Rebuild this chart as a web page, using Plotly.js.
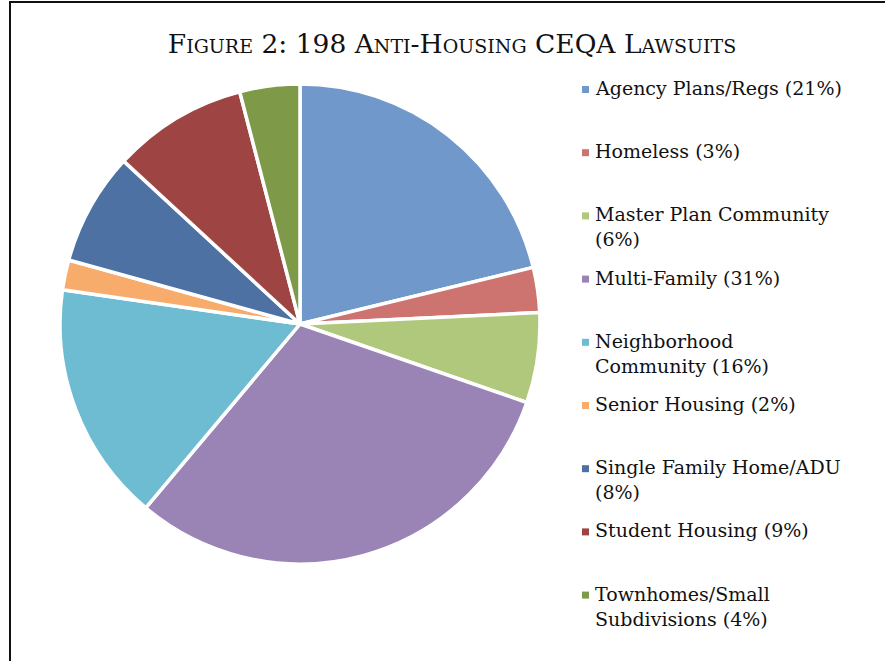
<!DOCTYPE html>
<html>
<head>
<meta charset="utf-8">
<script src="https://cdn.plot.ly/plotly-3.0.1.min.js"></script>
<style>
  html, body { margin: 0; padding: 0; background: #fff; overflow: hidden; }
  #frame { position: absolute; left: 9px; top: 1px; width: 1000px; height: 800px;
           border-left: 2px solid #111; border-top: 2px solid #111; }
  #chart { position: absolute; left: 0; top: 0; width: 885px; height: 661px; }
</style>
</head>
<body>
<div id="frame"></div>
<div id="chart"></div>
<script>
// ---- data ----
const categories = [
  "Agency Plans/Regs", "Homeless", "Master Plan Community", "Multi-Family",
  "Neighborhood Community", "Senior Housing", "Single Family Home/ADU",
  "Student Housing", "Townhomes/Small Subdivisions"
];
const lawsuitCounts = [42, 6, 12, 61, 32, 4, 15, 18, 8];
const percentLabels = ["21%", "3%", "6%", "31%", "16%", "2%", "8%", "9%", "4%"];
const legendLines = [
  "Agency Plans/Regs (21%)",
  "Homeless (3%)",
  "Master Plan Community<br>(6%)",
  "Multi-Family (31%)",
  "Neighborhood<br>Community (16%)",
  "Senior Housing (2%)",
  "Single Family Home/ADU<br>(8%)",
  "Student Housing (9%)",
  "Townhomes/Small<br>Subdivisions (4%)"
];
const sliceColors = [
  "#7098cb", "#cd7471", "#b0c87c", "#9a84b6", "#6ebcd1",
  "#f8ac6c", "#4c71a2", "#9e4442", "#7e9947"
];

// ---- layout helpers ----
const W = 885, H = 661;
const px = v => v / W;
const py = v => 1 - v / H;

const legendTop = 89;      // centre of first legend line (px)
const legendStep = 63.2;   // spacing between entries (px)
const fontFam = "DejaVu Serif, Liberation Serif, serif";
const legendSize = 19;

const annotations = [];
const shapes = [];
legendLines.forEach((t, i) => {
  const cy = legendTop + i * legendStep;
  annotations.push({
    xref: "paper", yref: "paper",
    x: px(593), y: py(cy - 14),
    xanchor: "left", yanchor: "top", align: "left",
    text: t, showarrow: false,
    font: { family: fontFam, size: legendSize, color: "#111" }
  });
  shapes.push({
    type: "rect", xref: "paper", yref: "paper",
    x0: px(582), x1: px(589), y0: py(cy - 3), y1: py(cy + 4),
    fillcolor: sliceColors[i], line: { width: 0 }
  });
});

const data = [{
  type: "pie",
  labels: categories,
  values: lawsuitCounts,
  customdata: percentLabels,
  sort: false,
  direction: "clockwise",
  rotation: 0,
  textinfo: "none",
  hoverinfo: "label+value",
  marker: { colors: sliceColors, line: { color: "#ffffff", width: 3.5 } },
  domain: { x: [px(60), px(540)], y: [py(564), py(84)] },
  showlegend: false
}];

const layout = {
  width: W, height: H,
  margin: { l: 0, r: 0, t: 0, b: 0 },
  paper_bgcolor: "rgba(0,0,0,0)",
  plot_bgcolor: "rgba(0,0,0,0)",
  title: {
    text: "Figure 2: 198 Anti-Housing CEQA Lawsuits",
    x: px(452), xanchor: "center",
    y: py(44), yanchor: "middle", xref: "paper", yref: "container",
    font: { family: fontFam, size: 26.5, color: "#111", variant: "small-caps" }
  },
  showlegend: false,
  annotations: annotations,
  shapes: shapes
};

Plotly.newPlot("chart", data, layout, { displayModeBar: false, staticPlot: true });
</script>
</body>
</html>
